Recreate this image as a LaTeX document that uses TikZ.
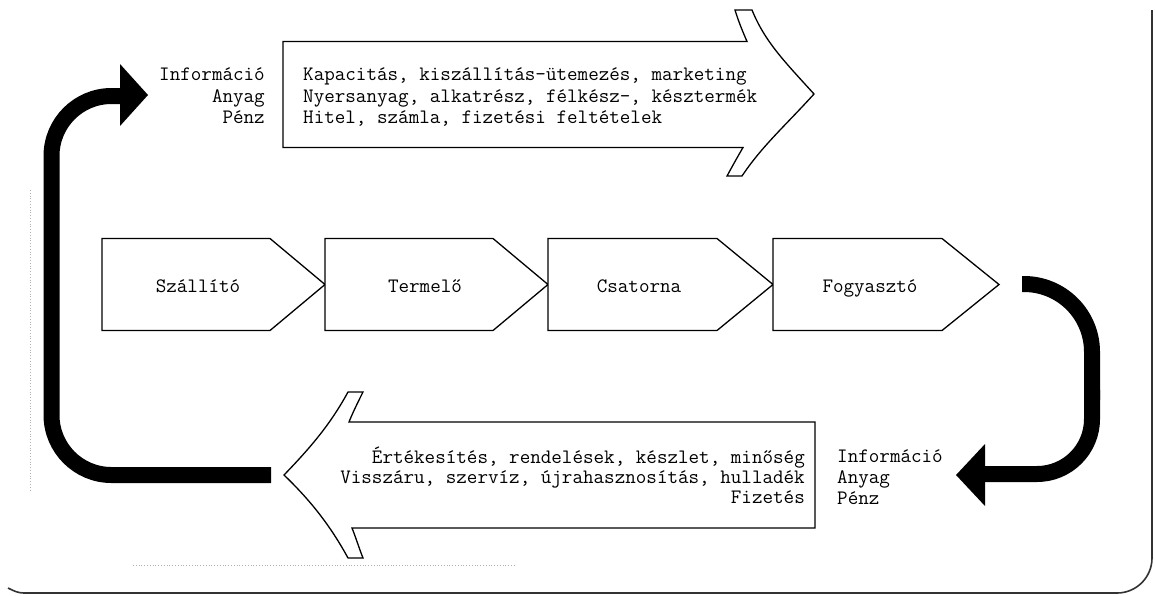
\documentclass[tikz,border=0pt]{standalone}
\usepackage{fontspec}
\begin{document}
\begin{tikzpicture}[x=1pt,y=-1pt,
  outl/.style={draw=black, line width=1.3pt, line join=miter, fill=white},
  band/.style={draw=black, line width=16pt},
  lbl/.style={font=\fontsize{20.5}{21.5}\selectfont\ttfamily, inner sep=0pt, text=black},
  frameline/.style={draw=black!80, line width=1.6pt},
  faint/.style={draw=black!30, dotted, line width=0.8pt}]
\useasboundingbox (0,0) rectangle (1155,595);
% frame
\draw[frameline, rounded corners=35pt] (1152,10) -- (1152,593) -- (24,593);
\draw[frameline] (8,588) .. controls (14,591) and (18,593) .. (24,593);
\draw[faint] (30,190) -- (30,491);
\draw[faint] (133,565) -- (515,565);
% top arrow
\draw[outl] (283,41.5) -- (747,41.5) .. controls (742,30) and (738,20) .. (735,10) -- (752,10)
  .. controls (765,42) and (785,62) .. (814,94)
  .. controls (785,126) and (762,146) .. (742,176) -- (727,176)
  .. controls (733,165) and (738,156) .. (743,147.5) -- (283,147.5) -- cycle;
% bottom arrow
\draw[outl] (815,422) -- (349,422) .. controls (353,412) and (358,402) .. (363,392) -- (348,392)
  .. controls (330,425) and (310,448) .. (284,475)
  .. controls (310,500) and (330,525) .. (348,558) -- (363,558)
  .. controls (359,548) and (356,538) .. (352,528) -- (815,528) -- cycle;
% chevrons
\draw[outl] (102,238.5) -- (270,238.5) -- (325,284.5) -- (270,330.5) -- (102,330.5) -- cycle;
\draw[outl] (325,238.5) -- (493,238.5) -- (548,284.5) -- (493,330.5) -- (325,330.5) -- cycle;
\draw[outl] (548,238.5) -- (717,238.5) -- (773,284.5) -- (717,330.5) -- (548,330.5) -- cycle;
\draw[outl] (773,238.5) -- (942,238.5) -- (999,284.5) -- (942,330.5) -- (773,330.5) -- cycle;
% black flow arrows
\draw[band, rounded corners=60pt] (271,475) -- (51.5,475) -- (51.5,96) -- (122,96);
\fill[black] (120,64) -- (148,95) -- (120,126) -- cycle;
\draw[band, rounded corners=68pt] (1022,284) -- (1092,284) -- (1092,400);
\draw[band, rounded corners=55pt] (1092,390) -- (1092,474) -- (983,474);
\fill[black] (985,444) -- (956,475) -- (985,506) -- cycle;
% chevron labels
\node[lbl, anchor=base] (szallito) at (198,292) {Szállító};
\node[lbl, anchor=base] (termelo) at (425,292) {Termelő};
\node[lbl, anchor=base] (csatorna) at (639,292) {Csatorna};
\node[lbl, anchor=base] (fogyaszto) at (870,292) {Fogyasztó};
% top labels
\node[lbl, anchor=base east] (tl1) at (265,80) {Információ};
\node[lbl, anchor=base east] (tl2) at (265,102) {Anyag};
\node[lbl, anchor=base east] (tl3) at (265,123) {Pénz};
\node[lbl, anchor=base west] (tt1) at (303,80) {Kapacitás, kiszállítás-ütemezés, marketing};
\node[lbl, anchor=base west] (tt2) at (303,102) {Nyersanyag, alkatrész, félkész-, késztermék};
\node[lbl, anchor=base west] (tt3) at (303,123) {Hitel, számla, fizetési feltételek};
% bottom labels
\node[lbl, anchor=base east] (bt1) at (805,463) {Értékesítés, rendelések, készlet, minőség};
\node[lbl, anchor=base east] (bt2) at (805,483) {Visszáru, szervíz, újrahasznosítás, hulladék};
\node[lbl, anchor=base east] (bt3) at (805,503) {Fizetés};
\node[lbl, anchor=base west] (bl1) at (837,462) {Információ};
\node[lbl, anchor=base west] (bl2) at (837,483) {Anyag};
\node[lbl, anchor=base west] (bl3) at (837,504) {Pénz};
\end{tikzpicture}
\end{document}
